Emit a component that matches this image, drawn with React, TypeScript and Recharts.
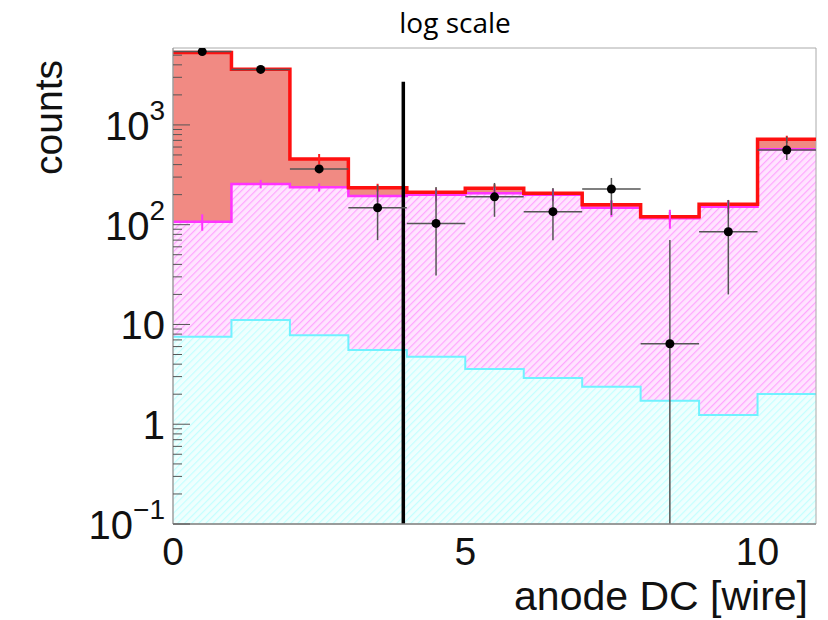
import React from "react";
import {
  ComposedChart,
  Area,
  Line,
  Scatter,
  XAxis,
  YAxis,
  ErrorBar,
  ReferenceLine,
  ReferenceArea,
} from "recharts";

// one bin per wire, 11 wires
const binEdges = [0, 1, 2, 3, 4, 5, 6, 7, 8, 9, 10, 11];
const binCenters = [0.5, 1.5, 2.5, 3.5, 4.5, 5.5, 6.5, 7.5, 8.5, 9.5, 10.5];

// stacked MC expectation (total = signal + background)
const totalMC = [5310, 3615, 456, 235, 211, 232, 207, 158, 120, 160, 719];
const totalErr = [60, 50, 55, 22, 20, 22, 20, 16, 14, 16, 60];
const signalMC = [107, 256, 237, 194, 199, 207, 199, 148, 116, 151, 571];
const signalErr = [20, 25, 22, 25, 28, 28, 28, 28, 25, 22, 40];
const bkgMC = [7.55, 11.1, 7.8, 5.55, 4.75, 3.58, 2.91, 2.38, 1.72, 1.24, 2.01];

// measured counts with asymmetric errors
const dataCounts = [5430, 3600, 362, 148, 103, 190, 135, 228, 6.4, 85, 560];
const dataErrLow = [75, 60, 20, 78, 72, 70, 65, 103, 6.3, 65, 115];
const dataErrHigh = [75, 60, 22, 102, 136, 72, 98, 66, 64, 92, 200];
const binHalfWidth = 0.5;

// wire cut
const cutWire = 3.94;
const cutTop = 2700;

const Y_MIN = 0.1;
const Y_MAX = 5900;
const majorTicks = [0.1, 1, 10, 100, 1000];
const yTicks = majorTicks.flatMap((d) =>
  [1, 2, 3, 4, 5, 6, 7, 8, 9].map((m) => m * d).filter((v) => v <= Y_MAX)
);
const xTicks = [0, 5, 10];

const FONT = "'Liberation Sans', Arial, Helvetica, sans-serif";

// step rows at bin edges; the last edge repeats the last bin
const stepRows = binEdges.map((x, i) => {
  const k = Math.min(i, totalMC.length - 1);
  return { x, total: totalMC[k], signal: signalMC[k], bkg: bkgMC[k] };
});

const dataPoints = binCenters.map((x, i) => ({
  x,
  y: dataCounts[i],
  yErr: [dataErrLow[i], dataErrHigh[i]],
  xErr: binHalfWidth,
}));

const signalPoints = binCenters.map((x, i) => ({ x, y: signalMC[i], err: signalErr[i] }));
const totalPoints = binCenters.map((x, i) => ({ x, y: totalMC[i], err: totalErr[i] }));

const expLabel = (v: number): [string, string] => {
  if (v === 0.1) return ["10", "\u22121"];
  if (v === 1) return ["1", ""];
  if (v === 10) return ["10", ""];
  if (v === 100) return ["10", "2"];
  return ["10", "3"];
};

const YTick = (props: any) => {
  const { x, y, payload } = props;
  const major = majorTicks.includes(payload.value);
  const edge = x + 8;
  const [base, exp] = expLabel(payload.value);
  return (
    <g>
      <line x1={edge} x2={edge + (major ? 17 : 9)} y1={y} y2={y} stroke="#555" strokeWidth={1} />
      {major && (
        <text x={x} y={y + 15} textAnchor="end" fontSize={40} fontFamily={FONT} fill="#111">
          {base}
          {exp && (
            <tspan fontSize={28} dy={-20}>
              {exp}
            </tspan>
          )}
        </text>
      )}
    </g>
  );
};

const XTick = (props: any) => {
  const { x, y, payload } = props;
  return (
    <text x={x} y={y + 41} textAnchor="middle" fontSize={39} fontFamily={FONT} fill="#111">
      {payload.value}
    </text>
  );
};

const Dot = (p: any) => <circle cx={p.cx} cy={p.cy} r={4.5} fill="#000" />;
const NoDot = () => <g />;

export default function App() {
  return (
    <div style={{ position: "absolute", left: 0, top: 0, width: 828, height: 620, background: "#fff" }}>
      <ComposedChart
        width={828}
        height={620}
        data={stepRows}
        margin={{ top: 48, right: 12, left: 0, bottom: 0 }}
      >
        <defs>
          <pattern id="hatchMagenta" patternUnits="userSpaceOnUse" width="5" height="5" patternTransform="rotate(45)">
            <rect width="5" height="5" fill="#ffe4ff" />
            <line x1="0" y1="0" x2="0" y2="5" stroke="#ffa6ff" strokeWidth="2.4" />
          </pattern>
          <pattern id="hatchCyan" patternUnits="userSpaceOnUse" width="5" height="5" patternTransform="rotate(45)">
            <rect width="5" height="5" fill="#effffe" />
            <line x1="0" y1="0" x2="0" y2="5" stroke="#c4ffff" strokeWidth="2.4" />
          </pattern>
        </defs>
        <XAxis
          dataKey="x"
          type="number"
          domain={[0, 11]}
          ticks={xTicks}
          interval={0}
          allowDataOverflow
          height={96}
          tickSize={0}
          tickMargin={0}
          tickLine={false}
          axisLine={{ stroke: "#888", strokeWidth: 1.5 }}
          tick={<XTick />}
        />
        <YAxis
          scale="log"
          type="number"
          domain={[Y_MIN, Y_MAX]}
          ticks={yTicks}
          interval={0}
          allowDataOverflow
          width={173}
          tickSize={0}
          tickMargin={8}
          tickLine={false}
          axisLine={{ stroke: "#999", strokeWidth: 1 }}
          tick={<YTick />}
        />
        <Area
          type="stepAfter"
          dataKey="total"
          baseValue={Y_MIN}
          fill="#f08078"
          fillOpacity={0.92}
          stroke="none"
          isAnimationActive={false}
        />
        <Area
          type="stepAfter"
          dataKey="signal"
          baseValue={Y_MIN}
          fill="url(#hatchMagenta)"
          fillOpacity={1}
          stroke="#ff33ff"
          strokeWidth={2.5}
          isAnimationActive={false}
        />
        <Area
          type="stepAfter"
          dataKey="bkg"
          baseValue={Y_MIN}
          fill="url(#hatchCyan)"
          fillOpacity={1}
          stroke="#70f2ff"
          strokeWidth={2}
          isAnimationActive={false}
        />
        <Line
          type="stepAfter"
          dataKey="total"
          stroke="#ff1010"
          strokeWidth={3.5}
          dot={false}
          isAnimationActive={false}
        />
        <Scatter data={totalPoints} dataKey="y" shape={<NoDot />} isAnimationActive={false}>
          <ErrorBar dataKey="err" direction="y" width={0} stroke="#ff2020" strokeWidth={2} />
        </Scatter>
        <Scatter data={signalPoints} dataKey="y" shape={<NoDot />} isAnimationActive={false}>
          <ErrorBar dataKey="err" direction="y" width={0} stroke="#ff33ff" strokeWidth={2} />
        </Scatter>
        <ReferenceLine
          segment={[
            { x: cutWire, y: Y_MIN },
            { x: cutWire, y: cutTop },
          ]}
          stroke="#000"
          strokeWidth={3.5}
        />
        <Scatter data={dataPoints} dataKey="y" shape={<Dot />} isAnimationActive={false}>
          <ErrorBar dataKey="yErr" direction="y" width={0} stroke="#555" strokeWidth={1.5} />
          <ErrorBar dataKey="xErr" direction="x" width={0} stroke="#555" strokeWidth={1.5} />
        </Scatter>
        <ReferenceArea
          x1={0}
          x2={11}
          y1={Y_MIN}
          y2={Y_MAX}
          fill="none"
          stroke="#aaa"
          strokeWidth={1}
        />
        <text x={455} y={33} textAnchor="middle" fontSize={28} fontFamily="'Open Sans', 'Noto Sans', sans-serif" fill="#000">
          log scale
        </text>
        <text
          x={62}
          y={60}
          transform="rotate(-90 62 60)"
          textAnchor="end"
          fontSize={39}
          fontFamily={FONT}
          fill="#111"
        >
          counts
        </text>
        <text x={808} y={610} textAnchor="end" fontSize={41} fontFamily={FONT} fill="#111">
          anode DC [wire]
        </text>
      </ComposedChart>
    </div>
  );
}
